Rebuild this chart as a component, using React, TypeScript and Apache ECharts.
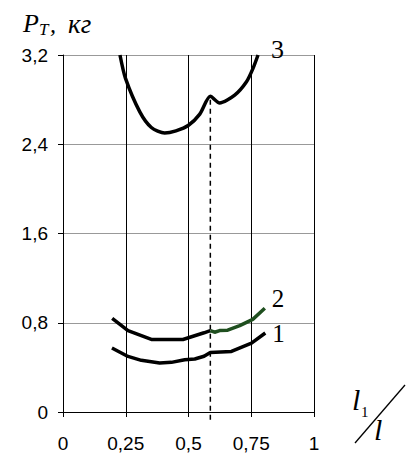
import React, { useEffect, useRef } from 'react';
import * as echarts from 'echarts';

const xTicks = [0, 0.25, 0.5, 0.75, 1];
const xTickLabels = ['0', '0,25', '0,5', '0,75', '1'];
const yTicks = [0, 0.8, 1.6, 2.4, 3.2];
const yTickLabels = ['0', '0,8', '1,6', '2,4', '3,2'];

const curve1X = [0.195, 0.259, 0.312, 0.385, 0.432, 0.485, 0.525, 0.562, 0.587, 0.671, 0.751, 0.806];
const curve1Y = [0.574, 0.498, 0.463, 0.439, 0.445, 0.469, 0.475, 0.5, 0.534, 0.543, 0.618, 0.708];

const curve2X = [0.196, 0.259, 0.352, 0.478, 0.562, 0.587];
const curve2Y = [0.84, 0.73, 0.65, 0.65, 0.71, 0.73];

const curve2GreenX = [0.587, 0.604, 0.624, 0.656, 0.704, 0.756, 0.804];
const curve2GreenY = [0.73, 0.715, 0.73, 0.733, 0.774, 0.83, 0.93];

const curve3X = [0.227, 0.249, 0.306, 0.352, 0.405, 0.45, 0.5, 0.545, 0.587, 0.624, 0.684, 0.731, 0.757, 0.777];
const curve3Y = [3.2, 2.99, 2.69, 2.55, 2.5, 2.52, 2.57, 2.67, 2.83, 2.77, 2.84, 2.96, 3.08, 3.2];

const dashedX = [0.587, 0.587];
const dashedY = [2.8, -0.08];

const curveLabels = ['1', '2', '3'];

const zip = (xs: number[], ys: number[]) => xs.map((x, i) => [x, ys[i]]);

const SANS = '"Liberation Sans", Arial, sans-serif';
const SERIF = '"Liberation Serif", "Times New Roman", serif';

export default function App() {
  const ref = useRef<HTMLDivElement>(null);
  useEffect(() => {
    if (!ref.current) return;
    const chart = echarts.init(ref.current, undefined, { renderer: 'svg' });
    const lineBase = {
      type: 'line',
      symbol: 'none',
      animation: false,
    };
    const endLabelStyle = {
      show: true,
      fontFamily: SERIF,
      fontSize: 25,
      color: '#000',
    };
    chart.setOption({
      animation: false,
      backgroundColor: '#fff',
      grid: { left: 63, right: 94, top: 55, bottom: 42, show: false },
      xAxis: {
        type: 'value',
        min: 0,
        max: 1,
        interval: 0.25,
        axisLine: { show: true, onZero: false, lineStyle: { color: '#000', width: 1 } },
        axisTick: { show: true, length: 5, lineStyle: { color: '#000', width: 1 } },
        axisLabel: {
          formatter: (v: number) => {
            const i = xTicks.findIndex((t) => Math.abs(t - v) < 1e-6);
            return i >= 0 ? xTickLabels[i] : '';
          },
          fontFamily: SANS,
          fontSize: 19,
          color: '#000',
          margin: 22,
        },
        splitLine: { show: true, lineStyle: { color: '#000', width: 1 } },
      },
      yAxis: {
        type: 'value',
        min: 0,
        max: 3.2,
        interval: 0.8,
        axisLine: { show: true, lineStyle: { color: '#000', width: 1 } },
        axisTick: { show: true, length: 5, lineStyle: { color: '#000', width: 1 } },
        axisLabel: {
          formatter: (v: number) => {
            const i = yTicks.findIndex((t) => Math.abs(t - v) < 1e-6);
            return i >= 0 ? yTickLabels[i] : '';
          },
          fontFamily: SANS,
          fontSize: 19,
          color: '#000',
          margin: 15,
        },
        splitLine: { show: true, lineStyle: { color: '#999', width: 1 } },
      },
      series: [
        {
          ...lineBase,
          name: 'dashed',
          data: zip(dashedX, dashedY),
          clip: false,
          lineStyle: { color: '#000', width: 1.5, type: [5, 4] },
          z: 1,
        },
        {
          ...lineBase,
          name: 'c1',
          data: zip(curve1X, curve1Y),
          lineStyle: { color: '#000', width: 3.5 },
          endLabel: { ...endLabelStyle, formatter: curveLabels[0], distance: 7 },
          z: 3,
        },
        {
          ...lineBase,
          name: 'c2',
          data: zip(curve2X, curve2Y),
          lineStyle: { color: '#000', width: 3.5 },
          z: 3,
        },
        {
          ...lineBase,
          name: 'c2g',
          data: zip(curve2GreenX, curve2GreenY),
          lineStyle: { color: '#1f4f1f', width: 3.5 },
          endLabel: { ...endLabelStyle, formatter: curveLabels[1], distance: 7, offset: [0, -10] },
          z: 3,
        },
        {
          ...lineBase,
          name: 'c3',
          data: zip(curve3X, curve3Y),
          smooth: 0.25,
          lineStyle: { color: '#000', width: 3.5 },
          endLabel: { ...endLabelStyle, fontSize: 26, formatter: curveLabels[2], distance: 13, offset: [0, -6] },
          z: 3,
        },
      ],
      graphic: [
        { type: 'text', left: 23, top: 10, style: { text: 'P', font: `italic 26px ${SERIF}`, fill: '#000' } },
        { type: 'text', left: 39, top: 21, style: { text: 'T', font: `italic 17px ${SERIF}`, fill: '#000' } },
        { type: 'text', left: 50, top: 12, style: { text: ',', font: `italic 24px ${SERIF}`, fill: '#000' } },
        { type: 'text', left: 68, top: 10, style: { text: 'кг', font: `italic 27px ${SERIF}`, fill: '#000' } },
        { type: 'text', left: 352, top: 384, style: { text: 'l', font: `italic 30px ${SERIF}`, fill: '#000' } },
        { type: 'text', left: 361, top: 404, style: { text: '1', font: `15px ${SERIF}`, fill: '#000' } },
        { type: 'line', shape: { x1: 405, y1: 385, x2: 355, y2: 443 }, style: { stroke: '#000', lineWidth: 1.3 } },
        { type: 'text', left: 374, top: 414, style: { text: 'l', font: `italic 30px ${SERIF}`, fill: '#000' } },
      ],
    });
    return () => chart.dispose();
  }, []);
  return <div ref={ref} style={{ position: 'absolute', left: 0, top: 0, width: 408, height: 454 }} />;
}
